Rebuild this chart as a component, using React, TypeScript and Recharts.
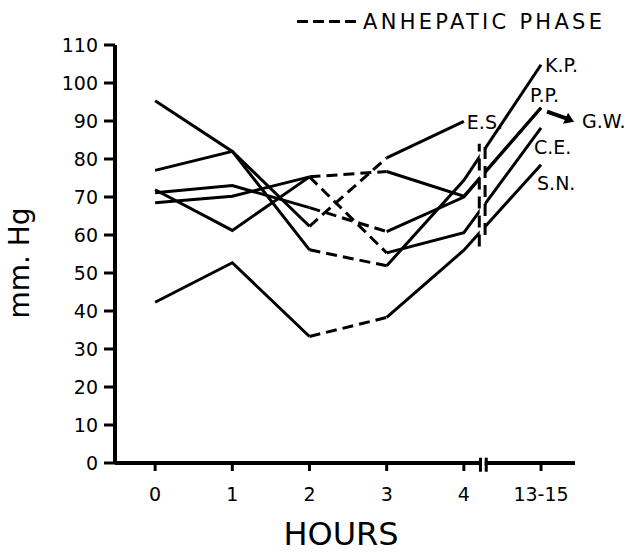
import { LineChart, Line, XAxis, YAxis, ReferenceArea, ReferenceLine } from 'recharts';

// hour positions on the x axis; the last one stands for "13-15" hours
const HOURS = [0, 1, 2, 3, 4, 5];
const HOUR_LABELS = ['0', '1', '2', '3', '4', '13-15'];
const MMHG_TICKS = [0, 10, 20, 30, 40, 50, 60, 70, 80, 90, 100, 110];

// mm. Hg per patient at each hour
const KP = [95.3, 82, 56.1, 51.9, 74.4, 104.8];
const PP = [71.1, 73, 67.2, 60.9, 70, 93.5];
const GW = [68.5, 70.2, 75.3, 76.7, 70.2, 93.5];
const CE = [71.9, 61.2, 75.3, 55.3, 60.6, 88.2];
const SN = [42.3, 52.7, 33.3, 38.3, 56, 78.5];
const ES = [77, 82, 62.3, 80.3, 89.9, null];

const PATIENTS = ['K.P.', 'P.P.', 'G.W.', 'C.E.', 'S.N.', 'E.S.'];
const SERIES = [KP, PP, GW, CE, SN, ES];

// anhepatic phase (dashed) runs between these hour indexes
const ANHEPATIC = [2, 3];

const LABEL_OFFSET: Record<string, { dx: number; dy: number }> = {
  'K.P.': { dx: 4, dy: 0 },
  'P.P.': { dx: -11, dy: -13 },
  'G.W.': { dx: 41, dy: 13 },
  'C.E.': { dx: -7, dy: 19 },
  'S.N.': { dx: -4, dy: 18 },
  'E.S.': { dx: 3, dy: 1 },
};

const FONT = '"DejaVu Sans", sans-serif';
const DASH = '11 6';

const points = (vals: (number | null)[], from: number, to: number) =>
  HOURS.slice(from, to + 1)
    .map((h, i) => ({ h, v: vals[from + i] }))
    .filter((p) => p.v != null);

const endLabel = (name: string, count: number) => (props: any) => {
  if (props.index !== count - 1) return null;
  const { x, y } = props;
  const off = LABEL_OFFSET[name];
  return (
    <g key={name}>
      {name === 'G.W.' && (
        <g>
          <line x1={x + 6} y1={y + 4} x2={x + 26} y2={y + 11} stroke="#000" strokeWidth={4} />
          <polygon points={`${x + 33},${y + 14} ${x + 22},${y + 16} ${x + 27},${y + 5}`} fill="#000" />
        </g>
      )}
      <text x={x + off.dx} y={y + off.dy} dominantBaseline="central" fontSize={19} fontFamily={FONT} fill="#000">
        {name}
      </text>
    </g>
  );
};

export default function App() {
  const [a, b] = ANHEPATIC;
  return (
    <div style={{ position: 'absolute', left: 0, top: 0, width: 631, height: 557, background: '#fff' }}>
      <LineChart width={631} height={557} margin={{ top: 45, right: 56, bottom: 0, left: 0 }}>
        <XAxis
          dataKey="h"
          type="number"
          domain={[-0.52, 5.44]}
          ticks={HOURS}
          tickFormatter={(v: number) => HOUR_LABELS[HOURS.indexOf(v)]}
          height={94}
          tickSize={8}
          tickMargin={17}
          axisLine={{ stroke: '#000', strokeWidth: 4 }}
          tickLine={{ stroke: '#000', strokeWidth: 3 }}
          tick={{ fill: '#000', fontSize: 19, fontFamily: FONT }}
          allowDataOverflow
        />
        <YAxis
          type="number"
          domain={[0, 110]}
          ticks={MMHG_TICKS}
          width={115}
          tickSize={11}
          tickMargin={6}
          axisLine={{ stroke: '#000', strokeWidth: 4 }}
          tickLine={{ stroke: '#000', strokeWidth: 3 }}
          tick={{ fill: '#000', fontSize: 19, fontFamily: FONT }}
          interval={0}
        />
        {SERIES.map((vals, i) => {
          const name = PATIENTS[i];
          const post = points(vals, b, HOURS.length - 1);
          return [
            <Line key={name + 'pre'} data={points(vals, 0, a)} dataKey="v" stroke="#000" strokeWidth={3}
              dot={false} isAnimationActive={false} />,
            <Line key={name + 'an'} data={points(vals, a, b)} dataKey="v" stroke="#000" strokeWidth={3}
              strokeDasharray={DASH} dot={false} isAnimationActive={false} />,
            <Line key={name + 'post'} data={post} dataKey="v" stroke="#000" strokeWidth={3}
              dot={false} isAnimationActive={false} label={endLabel(name, post.length)} />,
          ];
        })}
        {/* break between 4 h and 13-15 h */}
        <ReferenceArea x1={4.205} x2={4.265} y1={50} y2={95} fill="#fff" fillOpacity={1} stroke="none" zIndex={1500} />
        <ReferenceLine segment={[{ x: 4.2, y: 57 }, { x: 4.2, y: 84 }]} stroke="#000" strokeWidth={3} strokeDasharray="12 7" zIndex={1600} />
        <ReferenceLine segment={[{ x: 4.275, y: 60 }, { x: 4.275, y: 84 }]} stroke="#000" strokeWidth={3} strokeDasharray="12 7" zIndex={1600} />
        <ReferenceArea x1={4.232} x2={4.27} y1={-1} y2={1} fill="#fff" fillOpacity={1} stroke="none" ifOverflow="visible" zIndex={1500} />
        <ReferenceLine segment={[{ x: 4.215, y: -2.3 }, { x: 4.215, y: 1.4 }]} stroke="#000" strokeWidth={3} ifOverflow="visible" zIndex={1600} />
        <ReferenceLine segment={[{ x: 4.29, y: -2.3 }, { x: 4.29, y: 1.4 }]} stroke="#000" strokeWidth={3} ifOverflow="visible" zIndex={1600} />
      </LineChart>
      <svg width={631} height={557} style={{ position: 'absolute', left: 0, top: 0, pointerEvents: 'none' }}>
        <line x1={297} y1={21.5} x2={358} y2={21.5} stroke="#000" strokeWidth={3} strokeDasharray="11 5" />
        <text x={363} y={29} fontSize={21} fontFamily={FONT} textLength={239} lengthAdjust="spacing" fill="#000">
          ANHEPATIC PHASE
        </text>
        <text x={0} y={0} transform="translate(19,263) rotate(-90)" textAnchor="middle" dominantBaseline="central"
          fontSize={28} fontFamily={FONT} fill="#000">
          mm. Hg
        </text>
        <text x={341} y={545} textAnchor="middle" fontSize={32} fontFamily={FONT} fill="#000">
          HOURS
        </text>
      </svg>
    </div>
  );
}
